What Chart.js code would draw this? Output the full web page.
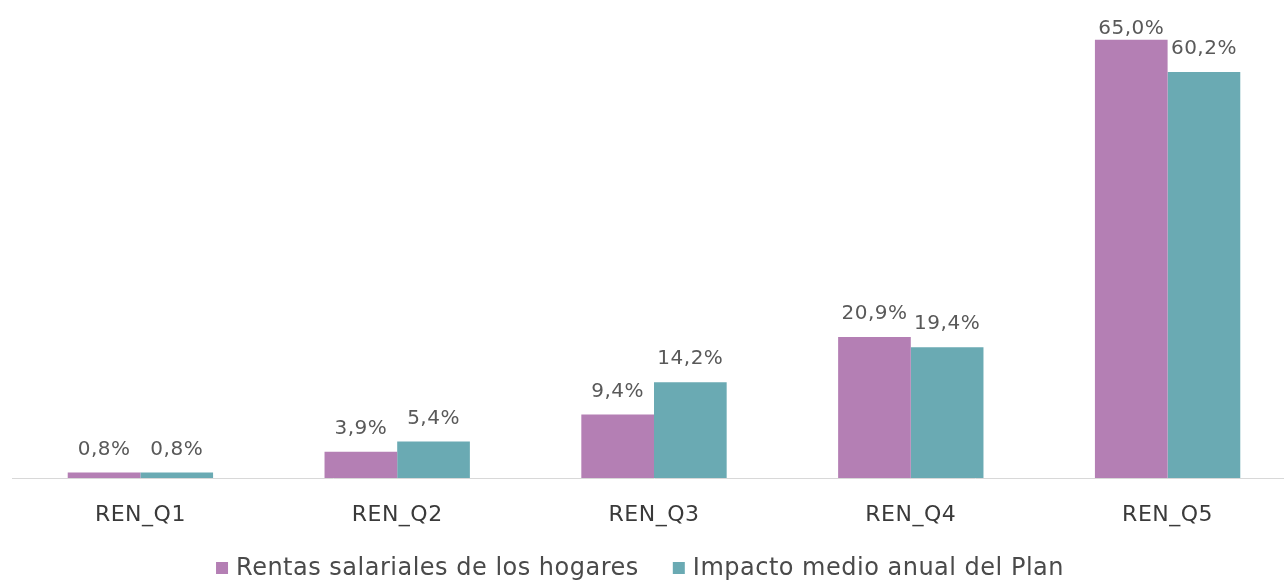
<!DOCTYPE html>
<html>
<head>
<meta charset="utf-8">
<script src="https://cdn.jsdelivr.net/npm/chart.js@4/dist/chart.umd.min.js"></script>
<style>
  html, body { margin: 0; padding: 0; background: #fff; overflow: hidden; }
  #wrap { width: 1300px; height: 583px; }
</style>
</head>
<body>
<div id="wrap"><canvas id="chart" width="1300" height="583"></canvas></div>
<script>
// Quintiles de renta
const categories = ['REN_Q1', 'REN_Q2', 'REN_Q3', 'REN_Q4', 'REN_Q5'];
const rentasSalariales = [0.8, 3.9, 9.4, 20.9, 65.0];
const impactoPlan = [0.8, 5.4, 14.2, 19.4, 60.2];
const seriesNames = ['Rentas salariales de los hogares', 'Impacto medio anual del Plan'];
const seriesColors = ['#b47fb4', '#6aaab3'];

const FONT = "'DejaVu Sans', sans-serif";
const SPACING = '0.5px';

// espaciado de letras para todos los textos del lienzo
const letterSpacing = {
  id: 'letterSpacing',
  beforeLayout(chart) { chart.ctx.letterSpacing = SPACING; },
  beforeDraw(chart) { chart.ctx.letterSpacing = SPACING; }
};

// etiquetas de valor encima de cada barra
const valueLabels = {
  id: 'valueLabels',
  afterDatasetsDraw(chart) {
    const ctx = chart.ctx;
    ctx.save();
    ctx.letterSpacing = SPACING;
    ctx.font = '20px ' + FONT;
    ctx.fillStyle = '#595959';
    ctx.textAlign = 'center';
    ctx.textBaseline = 'alphabetic';
    chart.data.datasets.forEach((ds, i) => {
      chart.getDatasetMeta(i).data.forEach((bar, j) => {
        const txt = ds.data[j].toFixed(1).replace('.', ',') + '%';
        ctx.fillText(txt, bar.x, Math.max(bar.y - 18, 34));
      });
    });
    ctx.restore();
  }
};

// leyenda inferior centrada
const bottomLegend = {
  id: 'bottomLegend',
  afterDraw(chart) {
    const ctx = chart.ctx;
    const box = 12, gapText = 8, gapItem = 34, y = 568;
    ctx.save();
    ctx.letterSpacing = SPACING;
    ctx.font = '24px ' + FONT;
    const widths = seriesNames.map(n => box + gapText + ctx.measureText(n).width);
    const total = widths.reduce((a, b) => a + b, 0) + gapItem * (widths.length - 1);
    let x = 640 - total / 2;
    ctx.textBaseline = 'middle';
    ctx.textAlign = 'left';
    seriesNames.forEach((name, i) => {
      ctx.fillStyle = seriesColors[i];
      ctx.fillRect(x, y - box / 2, box, box);
      ctx.fillStyle = '#4a4a4a';
      ctx.fillText(name, x + box + gapText, y + 1);
      x += widths[i] + gapItem;
    });
    ctx.restore();
  }
};

new Chart(document.getElementById('chart'), {
  type: 'bar',
  data: {
    labels: categories,
    datasets: [
      { label: seriesNames[0], data: rentasSalariales, backgroundColor: seriesColors[0] },
      { label: seriesNames[1], data: impactoPlan, backgroundColor: seriesColors[1] }
    ]
  },
  options: {
    responsive: false,
    animation: false,
    layout: { padding: { left: 12, right: 4, top: 6, bottom: 0 } },
    datasets: { bar: { categoryPercentage: 0.566, barPercentage: 1 } },
    scales: {
      y: { display: false, min: 0, max: 70 },
      x: {
        grid: { display: false },
        border: { color: '#d8d8d8', width: 1 },
        ticks: { color: '#3a3a3a', font: { family: FONT, size: 22 }, padding: 16 },
        afterFit(scale) { scale.height = 105; }
      }
    },
    plugins: {
      tooltip: { enabled: false },
      legend: { display: false }
    }
  },
  plugins: [letterSpacing, valueLabels, bottomLegend]
});
</script>
</body>
</html>
